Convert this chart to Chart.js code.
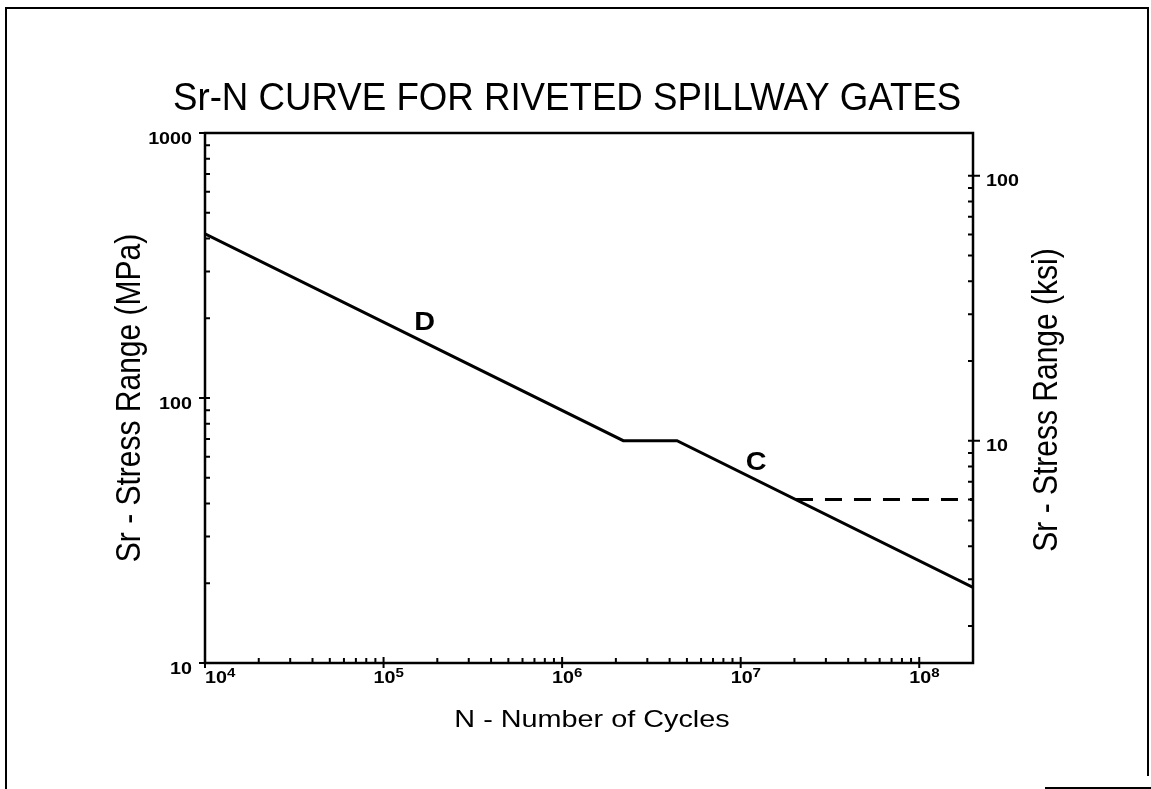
<!DOCTYPE html>
<html>
<head>
<meta charset="utf-8">
<script src="https://cdn.jsdelivr.net/npm/chart.js@4/dist/chart.umd.min.js"></script>
<style>
  html, body { margin: 0; padding: 0; background: #fff; }
  canvas { display: block; }
</style>
</head>
<body>
<canvas id="sn-chart" width="1151" height="789"></canvas>
<script>
// S-N curve: category D down to the knee, flat step, then category C
const cycles = [1e4, 2.2e6, 4.4e6, 2e8];
const stressMPa = [416, 69, 69, 19.3];

// constant amplitude fatigue limit (dashed)
const cutoffCycles = [2.04e7, 2e8];
const cutoffMPa = [41.4, 41.4];

const xTicks = [1e4, 1e5, 1e6, 1e7, 1e8];
const mpaTicks = [10, 100, 1000];
const ksiTicks = [10, 100];

// category labels placed on the curve
const categoryNames = ['D', 'C'];
const categoryN = [1.7e5, 1.22e7];
const categoryS = [195, 57.6];

const MPA_PER_KSI = 6.895;
const FONT = '"Liberation Sans", Arial, Helvetica, sans-serif';

function toPoints(xs, ys) {
    return xs.map((v, i) => ({ x: v, y: ys[i] }));
}

// text with a horizontal stretch (glyphs in this figure are wide)
function stretchedText(ctx, text, x, y, font, align, stretch) {
    ctx.save();
    ctx.font = font;
    ctx.textAlign = align;
    ctx.textBaseline = 'alphabetic';
    ctx.translate(x, y);
    ctx.scale(stretch, 1);
    ctx.fillText(text, 0, 0);
    ctx.restore();
}

// vertical axis title, read bottom to top; x is the baseline position
function verticalText(ctx, text, x, y, font, stretch) {
    ctx.save();
    ctx.font = font;
    ctx.textAlign = 'center';
    ctx.textBaseline = 'alphabetic';
    ctx.translate(x, y);
    ctx.rotate(-Math.PI / 2);
    ctx.scale(1, stretch);
    ctx.fillText(text, 0, 0);
    ctx.restore();
}

const decorations = {
    id: 'decorations',
    afterDraw(chart) {
        const ctx = chart.ctx;
        const a = chart.chartArea;
        const sx = chart.scales.x, sy = chart.scales.y, sy2 = chart.scales.y2;
        ctx.save();
        ctx.strokeStyle = '#000';
        ctx.fillStyle = '#000';

        // page frame
        ctx.lineWidth = 2;
        ctx.beginPath();
        ctx.moveTo(6, 789);
        ctx.lineTo(6, 8);
        ctx.lineTo(1148, 8);
        ctx.lineTo(1148, 776);
        ctx.moveTo(1045, 788);
        ctx.lineTo(1151, 788);
        ctx.stroke();

        // plot box
        ctx.lineWidth = 2.5;
        ctx.strokeRect(a.left, a.top, a.right - a.left, a.bottom - a.top);

        // x ticks: decades cross the axis, minors point inward
        ctx.lineWidth = 2;
        ctx.beginPath();
        for (let d = 4; d <= 8; d++) {
            for (let m = 1; m <= 9; m++) {
                const v = m * Math.pow(10, d);
                if (v > sx.max) break;
                const px = sx.getPixelForValue(v);
                if (m === 1) {
                    ctx.moveTo(px, a.bottom + 5);
                    ctx.lineTo(px, a.bottom - 6);
                } else {
                    ctx.moveTo(px, a.bottom);
                    ctx.lineTo(px, a.bottom - 5);
                }
            }
        }
        // left axis (MPa)
        for (let d = 1; d <= 3; d++) {
            for (let m = 1; m <= 9; m++) {
                const v = m * Math.pow(10, d);
                if (v > sy.max) break;
                const py = sy.getPixelForValue(v);
                if (m === 1) {
                    ctx.moveTo(a.left - 6, py);
                    ctx.lineTo(a.left + 5, py);
                } else {
                    ctx.moveTo(a.left, py);
                    ctx.lineTo(a.left + 5, py);
                }
            }
        }
        // right axis (ksi)
        for (let d = 0; d <= 2; d++) {
            for (let m = 1; m <= 9; m++) {
                const v = m * Math.pow(10, d);
                if (v < sy2.min) continue;
                if (v > sy2.max) break;
                const py = sy2.getPixelForValue(v);
                if (m === 1) {
                    ctx.moveTo(a.right - 5, py);
                    ctx.lineTo(a.right + 7, py);
                } else {
                    ctx.moveTo(a.right, py);
                    ctx.lineTo(a.right - 5, py);
                }
            }
        }
        ctx.stroke();

        // x tick labels: 10 with a raised exponent
        const st = 1.16;
        xTicks.forEach((v, i) => {
            const px = sx.getPixelForValue(v);
            const exp = String(Math.round(Math.log10(v)));
            ctx.font = 'bold 17px ' + FONT;
            const wBase = ctx.measureText('10').width * st;
            const left = i === 0 ? px : px - 10;
            stretchedText(ctx, '10', left, 683, 'bold 17px ' + FONT, 'left', st);
            stretchedText(ctx, exp, left + wBase, 677, 'bold 13px ' + FONT, 'left', st);
        });

        // y tick labels
        mpaTicks.forEach(v => {
            stretchedText(ctx, String(v), 192, sy.getPixelForValue(v) + 10.5, 'bold 17px ' + FONT, 'right', st);
        });
        ksiTicks.forEach(v => {
            stretchedText(ctx, String(v), 986, sy2.getPixelForValue(v) + 10, 'bold 17px ' + FONT, 'left', st);
        });

        // category letters
        categoryNames.forEach((t, i) => {
            const px = sx.getPixelForValue(categoryN[i]);
            const py = sy.getPixelForValue(categoryS[i]);
            stretchedText(ctx, t, px, py + 9, 'bold 25px ' + FONT, 'center', 1.15);
        });

        // chart title
        stretchedText(ctx, 'Sr-N CURVE FOR RIVETED SPILLWAY GATES', 173, 110, '39px ' + FONT, 'left', 0.94);

        // axis titles
        stretchedText(ctx, 'N - Number of Cycles', 592, 727, '24px ' + FONT, 'center', 1.2);
        verticalText(ctx, 'Sr - Stress Range (MPa)', 140, (a.top + a.bottom) / 2, '30px ' + FONT, 1.16);
        verticalText(ctx, 'Sr - Stress Range (ksi)', 1057, 400, '30px ' + FONT, 1.16);

        ctx.restore();
    }
};

new Chart(document.getElementById('sn-chart'), {
    type: 'scatter',
    data: {
        datasets: [
            {
                data: toPoints(cycles, stressMPa),
                showLine: true,
                borderColor: '#000',
                borderWidth: 3,
                pointRadius: 0,
                tension: 0
            },
            {
                data: toPoints(cutoffCycles, cutoffMPa),
                showLine: true,
                borderColor: '#000',
                borderWidth: 3,
                borderDash: [17, 12],
                pointRadius: 0
            }
        ]
    },
    options: {
        responsive: false,
        animation: false,
        layout: { padding: { top: 133, left: 0, right: 0, bottom: 0 } },
        plugins: {
            legend: { display: false },
            tooltip: { enabled: false }
        },
        scales: {
            x: {
                type: 'logarithmic',
                min: 1e4,
                max: 2e8,
                grid: { display: false },
                border: { display: false },
                ticks: { display: false },
                afterFit(scale) { scale.height = 126; }
            },
            y: {
                type: 'logarithmic',
                position: 'left',
                min: 10,
                max: 1000,
                grid: { display: false },
                border: { display: false },
                ticks: { display: false },
                afterFit(scale) { scale.width = 205; }
            },
            y2: {
                type: 'logarithmic',
                position: 'right',
                min: 10 / MPA_PER_KSI,
                max: 1000 / MPA_PER_KSI,
                grid: { display: false },
                border: { display: false },
                ticks: { display: false },
                afterFit(scale) { scale.width = 178; }
            }
        }
    },
    plugins: [decorations]
});
</script>
</body>
</html>
